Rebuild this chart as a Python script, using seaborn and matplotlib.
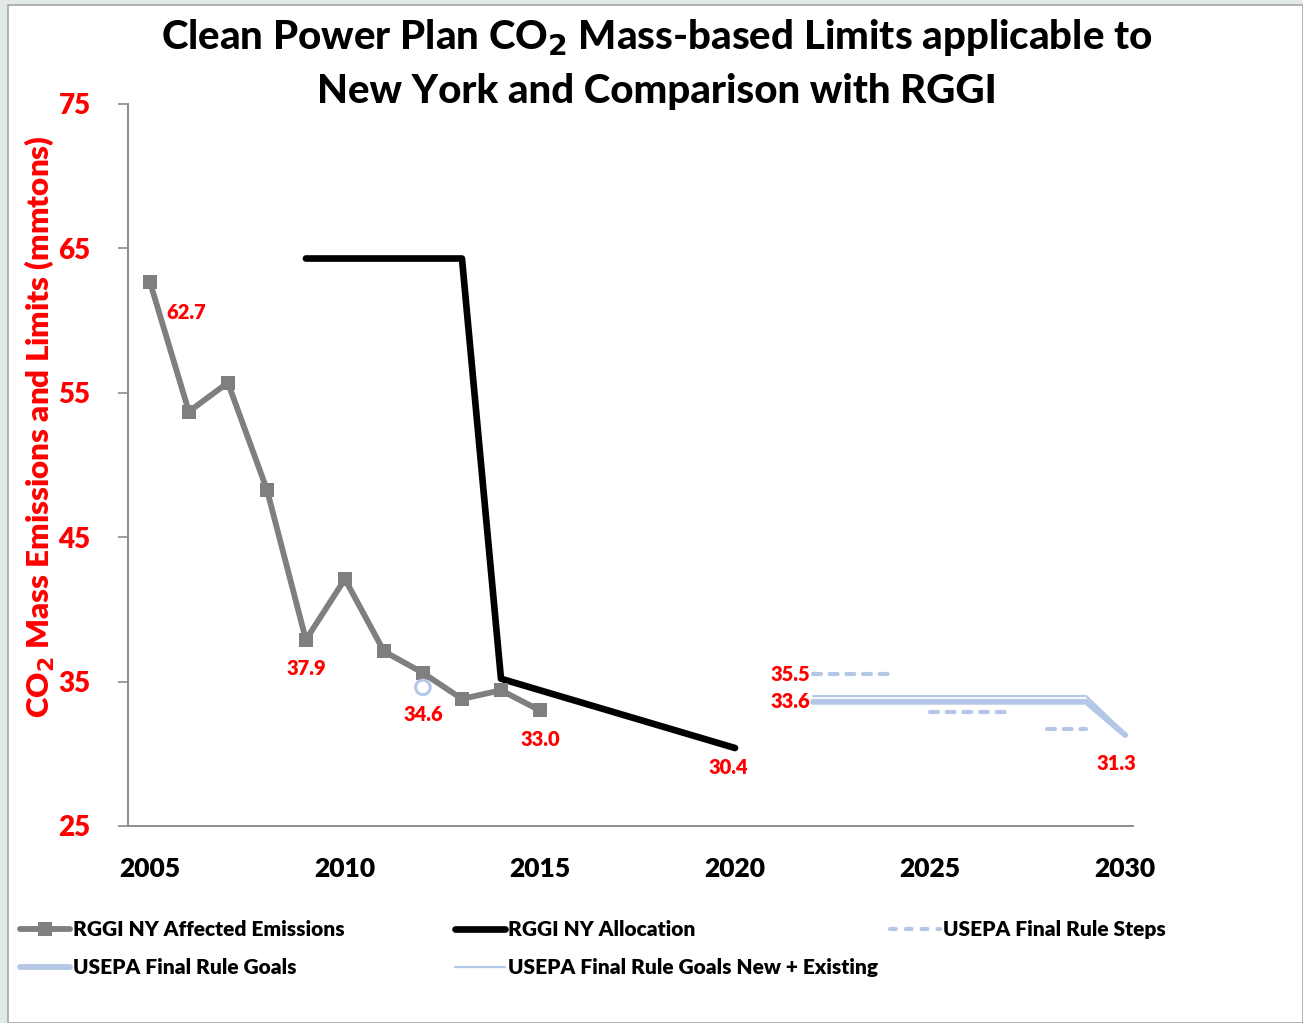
import numpy as np
import pandas as pd
import matplotlib
matplotlib.use("Agg")
import matplotlib.pyplot as plt
from matplotlib.lines import Line2D
from matplotlib.patches import Rectangle
import seaborn as sns

# data
emis_years = [2005, 2006, 2007, 2008, 2009, 2010, 2011, 2012, 2013, 2014, 2015]
emis_vals = [62.7, 53.7, 55.7, 48.3, 37.9, 42.1, 37.1, 35.6, 33.8, 34.4, 33.0]

alloc_years = [2009, 2010, 2011, 2012, 2013, 2014, 2015, 2016, 2017, 2018, 2019, 2020]
alloc_vals = [64.3, 64.3, 64.3, 64.3, 64.3, 35.2, 34.4, 33.6, 32.8, 32.0, 31.2, 30.4]

step_years = [2022, 2023, 2024, 2025, 2026, 2027, 2028, 2029]
step_vals = [35.5, 35.5, 35.5, 32.9, 32.9, 32.9, 31.7, 31.7]
step_group = [1, 1, 1, 2, 2, 2, 3, 3]

goal_years = [2022, 2029, 2030]
goal_vals = [33.6, 33.6, 31.3]
goal_ne_vals = [34.0, 34.0, 31.4]

marker_year = [2012]
marker_val = [34.6]

# (x, y, text, dx px, dy px)
labels = [
    (2005, 62.7, "62.7", 36, -31),
    (2009, 37.9, "37.9", 0, -29),
    (2012, 34.6, "34.6", 0, -27),
    (2015, 33.0, "33.0", 0, -29),
    (2020, 30.4, "30.4", -7, -19),
    (2022, 35.5, "35.5", -23, 0),
    (2022, 33.6, "33.6", -23, 0),
    (2030, 31.3, "31.3", -9, -28),
]

GRAY = "#7f7f7f"
LB = "#b4c7e7"
RED = "#ff0000"
W = "heavy"

sns.set_theme(style="white")
plt.rcParams["font.family"] = ["Lato", "DejaVu Sans"]
plt.rcParams["font.weight"] = W
plt.rcParams["text.color"] = "black"

fig = plt.figure(figsize=(13.03, 10.23), dpi=100)
fig.patch.set_facecolor("#e2e9e9")
fig.patches.append(Rectangle((8 / 1303, 0), 1 - 8 / 1303, 1 - 5 / 1023,
                             transform=fig.transFigure, facecolor="white",
                             edgecolor="#a6a6a6", linewidth=1.2, zorder=-5))

ax = fig.add_axes([128 / 1303, 1 - 826 / 1023, (1133 - 128) / 1303, (826 - 104) / 1023])
ax.set_facecolor("none")

emis = pd.DataFrame({"year": emis_years, "val": emis_vals})
alloc = pd.DataFrame({"year": alloc_years, "val": alloc_vals})
steps = pd.DataFrame({"year": step_years, "val": step_vals, "g": step_group})

sns.lineplot(data=steps, x="year", y="val", units="g", estimator=None, ax=ax,
             color=LB, linewidth=3, dashes=False, linestyle=(0, (1.9, 2.1)),
             dash_capstyle="round", zorder=2)
sns.lineplot(x=goal_years, y=goal_vals, ax=ax, color=LB, linewidth=4.2,
             solid_capstyle="round", zorder=2)
sns.lineplot(x=goal_years, y=goal_ne_vals, ax=ax, color=LB, linewidth=1.6, zorder=2)
sns.lineplot(data=alloc, x="year", y="val", ax=ax, color="black", linewidth=4.8,
             zorder=3)
sns.lineplot(data=emis, x="year", y="val", ax=ax, color=GRAY, linewidth=4.2,
             marker="s", markersize=9.5, markeredgewidth=0, zorder=4)
sns.scatterplot(x=marker_year, y=marker_val, ax=ax, marker="o", s=110,
                facecolor="none", edgecolor=LB, linewidth=2.2, zorder=5)

for x, y, t, dx, dy in labels:
    ax.annotate(t, (x, y), xytext=(dx, dy), textcoords="offset pixels",
                ha="center", va="center", color=RED, fontsize=14.5,
                fontweight=W)

ax.set_xlim(2004.44, 2030.2)
ax.set_ylim(25, 75)
ax.set_xticks([2005, 2010, 2015, 2020, 2025, 2030])
ax.set_yticks([25, 35, 45, 55, 65, 75])
ax.tick_params(axis="x", length=0, pad=22, labelsize=19, labelcolor="black")
ax.tick_params(axis="y", length=7, width=1.2, color="#8c8c8c", direction="out",
               pad=20, labelsize=20, labelcolor=RED, left=True)
for lab in ax.get_xticklabels() + ax.get_yticklabels():
    lab.set_fontweight(W)
for s in ["top", "right"]:
    ax.spines[s].set_visible(False)
for s in ["left", "bottom"]:
    ax.spines[s].set_color("#8c8c8c")
    ax.spines[s].set_linewidth(1.4)
ax.set_xlabel("")
ax.set_ylabel("CO$_2$ Mass Emissions and Limits (mmtons)", color=RED,
              fontsize=22.5, fontweight=W)
ax.yaxis.set_label_coords(-0.072, 0.553)

fig.text(657 / 1303, 1 - 38 / 1023,
         "Clean Power Plan CO$_2$ Mass-based Limits applicable to",
         ha="center", va="center", fontsize=29, fontweight="black", color="black")
fig.text(657 / 1303, 1 - 91 / 1023, "New York and Comparison with RGGI",
         ha="center", va="center", fontsize=29, fontweight="black", color="black")

# legend: three columns placed separately
h_emis = Line2D([], [], color=GRAY, linewidth=4.2, marker="s", markersize=9.5,
                markeredgewidth=0)
h_alloc = Line2D([], [], color="black", linewidth=4.8)
h_steps = Line2D([], [], color=LB, linewidth=3, linestyle=(0, (1.4, 2.4)),
                 dash_capstyle="round")
h_goal = Line2D([], [], color=LB, linewidth=4.2)
h_ne = Line2D([], [], color=LB, linewidth=1.6)

cols = [
    (20, [h_emis, h_goal], ["RGGI NY Affected Emissions", "USEPA Final Rule Goals"]),
    (455, [h_alloc, h_ne], ["RGGI NY Allocation", "USEPA Final Rule Goals New + Existing"]),
    (890, [h_steps], ["USEPA Final Rule Steps"]),
]
for px, hs, ls in cols:
    fig.legend(hs, ls, loc="upper left",
               bbox_to_anchor=(px / 1303, 1 - 920 / 1023),
               frameon=False, handlelength=2.4, handletextpad=0.15,
               borderaxespad=0, borderpad=0, labelspacing=0.92,
               labelcolor="black", prop={"size": 15, "weight": W})

fig.savefig("out.png", dpi=100, facecolor=fig.get_facecolor())
